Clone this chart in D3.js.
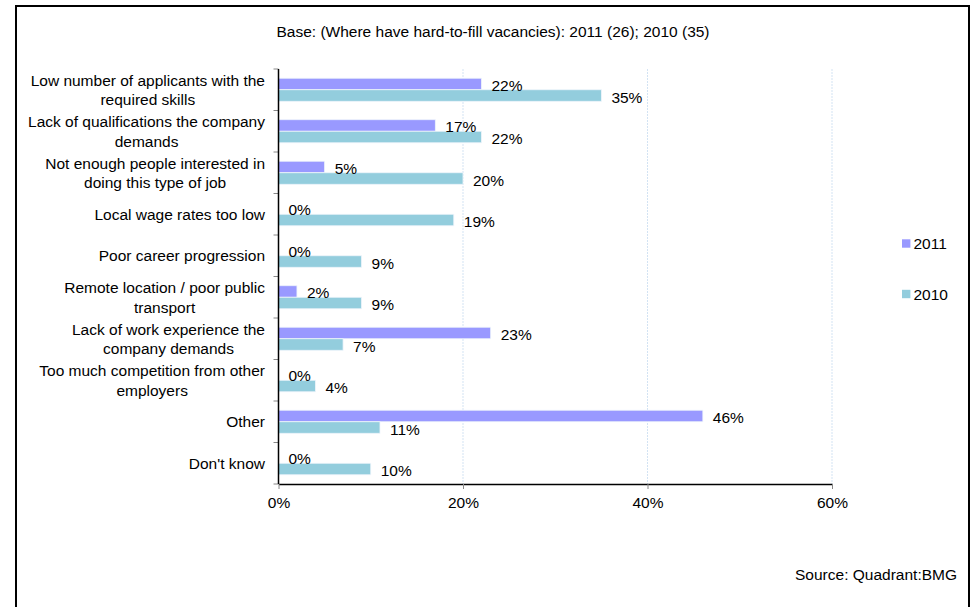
<!DOCTYPE html>
<html>
<head>
<meta charset="utf-8">
<script src="https://cdn.jsdelivr.net/npm/d3@7/dist/d3.min.js"></script>
<style>
  html, body { margin: 0; padding: 0; background: #fff; }
  svg { display: block; }
  text { font-family: "Liberation Sans", Arial, sans-serif; fill: #000; }
</style>
</head>
<body>
<svg id="chart" width="977" height="607"></svg>
<script>
// Reasons for hard-to-fill vacancies, share of employers (%)
const categories = [
  "Low number of applicants with the\nrequired skills",
  "Lack of qualifications the company\ndemands",
  "Not enough people interested in\ndoing this type of job",
  "Local wage rates too low",
  "Poor career progression",
  "Remote location / poor public\ntransport",
  "Lack of work experience the\ncompany demands",
  "Too much competition from other\nemployers",
  "Other",
  "Don't know"
];
const seriesNames = ["2011", "2010"];
const values2011 = [22, 17, 5, 0, 0, 2, 23, 0, 46, 0];
const values2010 = [35, 22, 20, 19, 9, 9, 7, 4, 11, 10];
const xTicks = [0, 20, 40, 60];
const titleText = "Base: (Where have hard-to-fill vacancies): 2011 (26); 2010 (35)";
const sourceText = "Source: Quadrant:BMG";

const colors = { "2011": "#9999ff", "2010": "#93cddd" };
const fontSize = 15.5;

const svg = d3.select("#chart");

// frame
svg.append("rect")
  .attr("x", 16).attr("y", 6)
  .attr("width", 953).attr("height", 620)
  .attr("fill", "#fff").attr("stroke", "#000").attr("stroke-width", 2);

const plot = { left: 278.5, right: 832, top: 69, bottom: 484 };

const x = d3.scaleLinear().domain([0, 60]).range([plot.left, plot.right]);
const y = d3.scaleBand().domain(d3.range(categories.length))
  .range([plot.top, plot.bottom]).padding(0);
const ySub = d3.scaleBand().domain(seriesNames)
  .range([0, y.bandwidth()]).paddingInner(0).paddingOuter(0.8);

// vertical gridlines
svg.append("g").selectAll("line")
  .data(xTicks.filter(t => t > 0))
  .join("line")
  .attr("x1", d => x(d)).attr("x2", d => x(d))
  .attr("y1", plot.top).attr("y2", plot.bottom)
  .attr("stroke", "#d3e3f3").attr("stroke-width", 1)
  .attr("stroke-dasharray", "2,1");

// bars
const rows = categories.map((c, i) => ({
  i, cat: c,
  vals: [
    { s: "2011", v: values2011[i] },
    { s: "2010", v: values2010[i] }
  ]
}));

const groups = svg.append("g").selectAll("g")
  .data(rows).join("g")
  .attr("transform", d => `translate(0,${y(d.i)})`);

groups.selectAll("rect")
  .data(d => d.vals).join("rect")
  .attr("x", x(0))
  .attr("y", d => ySub(d.s))
  .attr("width", d => x(d.v) - x(0))
  .attr("height", ySub.bandwidth())
  .attr("fill", d => colors[d.s])
  .attr("stroke", d => d.v > 0 ? "#eef4fb" : "none")
  .attr("stroke-width", 0.8);

// value labels
groups.selectAll("text.val")
  .data(d => d.vals).join("text")
  .attr("class", "val")
  .attr("x", d => x(d.v) + 10)
  .attr("y", d => ySub(d.s) + ySub.bandwidth() / 2 + 7)
  .attr("font-size", fontSize)
  .text(d => d.v + "%");

// axes
const xAxis = d3.axisBottom(x).tickValues(xTicks).tickFormat(d => d + "%")
  .tickSizeInner(5).tickSizeOuter(0).tickPadding(8);
const gx = svg.append("g").attr("transform", `translate(0,${plot.bottom})`).call(xAxis);
gx.select(".domain").attr("stroke", "#000").attr("stroke-width", 1.5);
gx.selectAll(".tick line").attr("stroke", "#888");
gx.selectAll(".tick text").attr("font-size", fontSize)
  .attr("font-family", "'Liberation Sans', Arial, sans-serif").attr("fill", "#000");

// category boundary ticks on the left axis
const yEdges = d3.range(categories.length + 1).map(i => plot.top + i * y.step());
svg.append("g").selectAll("line")
  .data(yEdges).join("line")
  .attr("x1", plot.left - 5).attr("x2", plot.left)
  .attr("y1", d => d).attr("y2", d => d)
  .attr("stroke", "#888").attr("stroke-width", 1);
svg.append("line")
  .attr("x1", plot.left).attr("x2", plot.left)
  .attr("y1", plot.top).attr("y2", plot.bottom)
  .attr("stroke", "#000").attr("stroke-width", 1.5);

// category labels: centred lines, block right-aligned against the axis
const labelRight = 265;
const lineGap = 19.5;
rows.forEach(r => {
  const lines = r.cat.split("\n");
  const cy = y(r.i) + y.bandwidth() / 2;
  const t = svg.append("text")
    .attr("font-size", fontSize)
    .attr("text-anchor", "middle");
  lines.forEach((ln, k) => {
    t.append("tspan")
      .attr("y", cy + (k - (lines.length - 1) / 2) * lineGap + 5.5)
      .text(ln);
  });
  let w = 0;
  t.selectAll("tspan").each(function () { w = Math.max(w, this.getComputedTextLength()); });
  t.selectAll("tspan").attr("x", labelRight - w / 2);
});

// title
svg.append("text")
  .attr("x", 493).attr("y", 37)
  .attr("text-anchor", "middle")
  .attr("font-size", fontSize)
  .text(titleText);

// legend
const legend = svg.append("g").selectAll("g")
  .data(seriesNames).join("g")
  .attr("transform", (d, i) => `translate(902,${243.5 + i * 50.5})`);
legend.append("rect")
  .attr("x", 0).attr("y", -4.2).attr("width", 8.4).attr("height", 8.4)
  .attr("fill", d => colors[d]);
legend.append("text")
  .attr("x", 11.5).attr("y", 5.5)
  .attr("font-size", fontSize)
  .text(d => d);

// source note
svg.append("text")
  .attr("x", 957).attr("y", 579.5)
  .attr("text-anchor", "end")
  .attr("font-size", fontSize)
  .text(sourceText);
</script>
</body>
</html>
